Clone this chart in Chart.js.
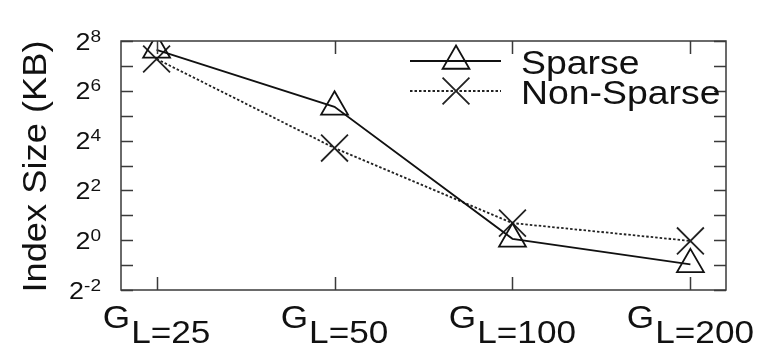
<!DOCTYPE html>
<html>
<head>
<meta charset="utf-8">
<script src="https://cdn.jsdelivr.net/npm/chart.js@4.4.0/dist/chart.umd.min.js"></script>
<style>
  html, body { margin: 0; padding: 0; background: #fff; }
</style>
</head>
<body>
<canvas id="indexChart" width="761" height="347"></canvas>
<script>
// group sizes on the x axis (G with subscript L=...)
const groupSizes = ['25', '50', '100', '200'];
// index size in KB
const sparseKB = [200, 41, 1.04, 0.51];
const nonSparseKB = [155, 13, 1.61, 0.98];
// powers of two on the y axis
const labelledExponents = [-2, 0, 2, 4, 6, 8];
const allExponents = [-2, -1, 0, 1, 2, 3, 4, 5, 6, 7, 8];

const FONT = "'Liberation Sans', Arial, Helvetica, sans-serif";
const INK = '#111';
const FRAME = '#3a3a3a';
const WIDEN = 1.1;   // the original postscript font runs a bit wider

function toPoints(values) {
    return values.map((v, i) => ({ x: i, y: v }));
}

// left-aligned text, stretched along its baseline; returns drawn width
function wideText(ctx, text, x, y, sx) {
    const w = ctx.measureText(text).width * sx;
    ctx.save();
    ctx.translate(x, y);
    ctx.scale(sx, 1);
    ctx.textAlign = 'left';
    ctx.fillText(text, 0, 0);
    ctx.restore();
    return w;
}

// frame, inward ticks, tick labels, axis title and key, gnuplot style
const gnuplotDecor = {
    id: 'gnuplotDecor',
    afterDraw(chart) {
        const ctx = chart.ctx;
        const area = chart.chartArea;
        const xs = chart.scales.x;
        const ys = chart.scales.y;
        const tick = 12;

        ctx.save();
        ctx.strokeStyle = FRAME;
        ctx.lineWidth = 1.5;
        ctx.strokeRect(area.left, area.top, area.right - area.left, area.bottom - area.top);

        ctx.beginPath();
        allExponents.forEach(e => {
            const y = Math.round(ys.getPixelForValue(Math.pow(2, e))) + 0.5;
            ctx.moveTo(area.left, y); ctx.lineTo(area.left + tick, y);
            ctx.moveTo(area.right, y); ctx.lineTo(area.right - tick, y);
        });
        groupSizes.forEach((g, i) => {
            const x = Math.round(xs.getPixelForValue(i)) + 0.5;
            ctx.moveTo(x, area.bottom); ctx.lineTo(x, area.bottom - tick - 1);
            ctx.moveTo(x, area.top); ctx.lineTo(x, area.top + tick + 1);
        });
        ctx.stroke();

        // y tick labels: 2 with superscript exponent, right aligned
        ctx.fillStyle = INK;
        ctx.textBaseline = 'alphabetic';
        labelledExponents.forEach(e => {
            const y = ys.getPixelForValue(Math.pow(2, e));
            const right = area.left - 20;
            const sup = String(e);
            ctx.font = '17px ' + FONT;
            const supW = ctx.measureText(sup).width * 1.12;
            ctx.font = '24px ' + FONT;
            const baseW = ctx.measureText('2').width * 1.12;
            wideText(ctx, '2', right - supW - baseW, y + 8.5, 1.12);
            ctx.font = '17px ' + FONT;
            wideText(ctx, sup, right - supW, y + 0.5, 1.12);
        });

        // x tick labels: G with subscript L=n
        groupSizes.forEach((g, i) => {
            const x = xs.getPixelForValue(i);
            const sub = 'L=' + g;
            ctx.font = '32px ' + FONT;
            const gW = ctx.measureText('G').width * WIDEN;
            const subW = ctx.measureText(sub).width * WIDEN;
            const start = x - (gW + subW + 1) / 2;
            wideText(ctx, 'G', start, area.bottom + 38, WIDEN);
            wideText(ctx, sub, start + gW + 1, area.bottom + 53, WIDEN);
        });

        // y axis title
        ctx.save();
        ctx.translate(46, (area.top + area.bottom) / 2 + 1);
        ctx.rotate(-Math.PI / 2);
        ctx.font = '33px ' + FONT;
        const titleW = ctx.measureText('Index Size (KB)').width * WIDEN;
        wideText(ctx, 'Index Size (KB)', -titleW / 2, 0, WIDEN);
        ctx.restore();

        // key
        const keyRows = [
            { label: 'Sparse', ds: chart.data.datasets[0], y: 61 },
            { label: 'Non-Sparse', ds: chart.data.datasets[1], y: 91 }
        ];
        keyRows.forEach(row => {
            ctx.save();
            ctx.strokeStyle = row.ds.borderColor;
            ctx.lineWidth = row.ds.borderWidth;
            ctx.setLineDash(row.ds.borderDash || []);
            ctx.beginPath();
            ctx.moveTo(410, row.y); ctx.lineTo(501, row.y);
            ctx.stroke();
            ctx.setLineDash([]);
            ctx.lineWidth = row.ds.pointBorderWidth;
            ctx.fillStyle = 'rgba(0,0,0,0)';
            Chart.helpers.drawPoint(ctx, {
                pointStyle: row.ds.pointStyle,
                radius: row.ds.pointRadius,
                rotation: 0,
                borderWidth: row.ds.pointBorderWidth
            }, 456, row.y);
            ctx.restore();
            ctx.fillStyle = INK;
            ctx.font = '34px ' + FONT;
            wideText(ctx, row.label, 521, row.y + 12.5, WIDEN);
        });
        ctx.restore();
    }
};

new Chart(document.getElementById('indexChart').getContext('2d'), {
    type: 'line',
    data: {
        datasets: [{
            label: 'Sparse',
            data: toPoints(sparseKB),
            borderColor: INK,
            borderWidth: 1.8,
            pointStyle: 'triangle',
            pointRadius: 15.5,
            pointBorderWidth: 1.8,
            pointBorderColor: INK,
            pointBackgroundColor: 'rgba(0,0,0,0)',
            tension: 0
        }, {
            label: 'Non-Sparse',
            data: toPoints(nonSparseKB),
            borderColor: '#222',
            borderWidth: 1.8,
            borderDash: [2.5, 2],
            pointStyle: 'crossRot',
            pointRadius: 19,
            pointBorderWidth: 1.8,
            pointBorderColor: '#222',
            pointBackgroundColor: 'rgba(0,0,0,0)',
            tension: 0
        }]
    },
    options: {
        responsive: false,
        devicePixelRatio: 1,
        animation: false,
        events: [],
        layout: { padding: { left: 121, right: 35, top: 41, bottom: 57 } },
        scales: {
            x: { type: 'linear', min: -0.2, max: 3.2, display: false },
            y: { type: 'logarithmic', min: 0.25, max: 256, display: false }
        },
        plugins: {
            legend: { display: false },
            tooltip: { enabled: false }
        }
    },
    plugins: [gnuplotDecor]
});
</script>
</body>
</html>
